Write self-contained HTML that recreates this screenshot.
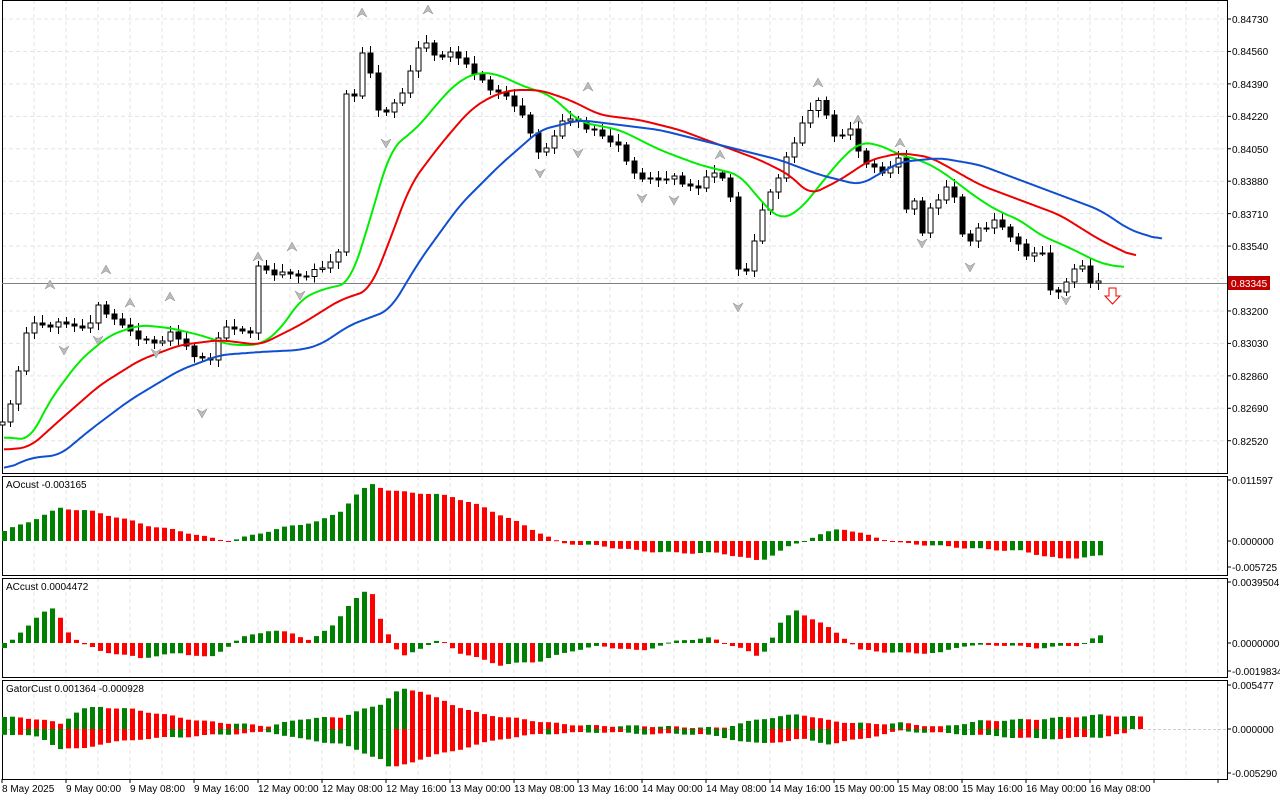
<!DOCTYPE html><html><head><style>
body{margin:0;background:#fff;font-family:"Liberation Sans",sans-serif;}
svg text{font-family:"Liberation Sans",sans-serif;font-size:10px;fill:#000}
</style></head><body>
<svg id="s" width="1280" height="800" xmlns="http://www.w3.org/2000/svg">
<rect width="1280" height="800" fill="#fff"/>
<g id="grid"></g><g id="shapes"></g>
<g id="lbl">
<text x="1232" y="23">0.84730</text><text x="1232" y="55">0.84560</text><text x="1232" y="88">0.84390</text><text x="1232" y="120">0.84220</text><text x="1232" y="153">0.84050</text><text x="1232" y="185">0.83880</text><text x="1232" y="218">0.83710</text><text x="1232" y="250">0.83540</text><text x="1232" y="283">0.83370</text><text x="1232" y="315">0.83200</text><text x="1232" y="347">0.83030</text><text x="1232" y="380">0.82860</text><text x="1232" y="412">0.82690</text><text x="1232" y="445">0.82520</text>
<rect x="1228" y="276" width="42" height="14" fill="#c00000"/><text x="1231" y="287" style="fill:#fff">0.83345</text>
<text x="1232" y="484">0.011597</text><text x="1232" y="545">0.000000</text><text x="1232" y="571">-0.005725</text>
<text x="1232" y="586">0.0039504</text><text x="1232" y="647">0.0000000</text><text x="1232" y="675">-0.0019834</text>
<text x="1232" y="689">0.005477</text><text x="1232" y="733">0.000000</text><text x="1232" y="777">-0.005290</text>
<text x="6" y="488">AOcust -0.003165</text><text x="6" y="590">ACcust 0.0004472</text><text x="6" y="692">GatorCust 0.001364 -0.000928</text>
<text x="2" y="792">8 May 2025</text><text x="66" y="792">9 May 00:00</text><text x="130" y="792">9 May 08:00</text><text x="194" y="792">9 May 16:00</text><text x="258" y="792">12 May 00:00</text><text x="322" y="792">12 May 08:00</text><text x="386" y="792">12 May 16:00</text><text x="450" y="792">13 May 00:00</text><text x="514" y="792">13 May 08:00</text><text x="578" y="792">13 May 16:00</text><text x="642" y="792">14 May 00:00</text><text x="706" y="792">14 May 08:00</text><text x="770" y="792">14 May 16:00</text><text x="834" y="792">15 May 00:00</text><text x="898" y="792">15 May 08:00</text><text x="962" y="792">15 May 16:00</text><text x="1026" y="792">16 May 00:00</text><text x="1090" y="792">16 May 08:00</text>
</g>
</svg>
<script>
const NS="http://www.w3.org/2000/svg",G=document.getElementById('shapes'),GR=document.getElementById('grid');
function el(p,t,a){const e=document.createElementNS(NS,t);for(const k in a)e.setAttribute(k,a[k]);p.appendChild(e);return e;}
function interp(k,x){if(x<=k[0][0])return k[0][1];for(let i=1;i<k.length;i++){if(x<=k[i][0]){const[a,b]=k[i-1],[c,d]=k[i];return b+(d-b)*(x-a)/(c-a);}}return k[k.length-1][1];}
function P(s){const a=s.split(/[ ,]+/).map(Number),r=[];for(let i=0;i<a.length;i+=2)r.push([a[i],a[i+1]]);return r;}
const panels=[[0,473],[476,575],[578,677],[680,779]];
for(const[t,b]of panels)for(let x=34;x<1227;x+=32)el(GR,'line',{x1:x,y1:t,x2:x,y2:b,stroke:'#e4e4e4','stroke-dasharray':'4,3'});
for(let i=0;i<14;i++){const y=19+i*32.44;el(GR,'line',{x1:2,y1:y,x2:1227,y2:y,stroke:'#e4e4e4','stroke-dasharray':'4,3'});}
for(const[t,b]of panels){el(GR,'rect',{x:2.5,y:t+0.5,width:1225,height:b-t,fill:'none',stroke:'#000'});}
for(let i=0;i<14;i++){const y=19+i*32.44;el(GR,'line',{x1:1227,y1:y,x2:1231,y2:y,stroke:'#000'});}
[480,541,567,582,643,671,685,729,773].forEach(y=>el(GR,'line',{x1:1227,y1:y,x2:1231,y2:y,stroke:'#000'}));
for(let x=2;x<1227;x+=64)el(GR,'line',{x1:x,y1:779,x2:x,y2:783,stroke:'#000'});
el(GR,'line',{x1:2,y1:283.5,x2:1227,y2:283.5,stroke:'#808080'});
const C=P("4,425 10,405 18,370 26,330 34,325 42,325 58,325 74,325 90,325 100,300 110,320 130,330 150,345 170,335 186,345 200,360 210,360 220,330 240,330 250,330 258,268 266,270 280,275 300,275 320,270 330,260 338,255 342,60 350,130 358,60 366,40 374,110 382,110 390,110 400,100 410,70 418,45 426,45 434,55 450,55 470,65 480,80 490,90 500,90 510,105 520,110 530,130 540,160 550,140 560,125 570,120 580,120 590,130 600,135 610,140 620,150 630,170 640,175 650,180 660,180 670,175 680,185 690,185 700,185 710,175 720,170 730,200 738,270 746,270 756,230 766,200 776,180 786,160 796,140 806,110 814,105 822,100 830,130 840,140 850,130 860,155 870,165 880,175 890,165 900,160 906,210 914,200 922,230 930,210 938,200 946,185 954,200 962,235 970,240 978,225 986,230 994,220 1002,225 1010,240 1018,245 1026,255 1034,250 1042,255 1050,290 1058,290 1066,285 1074,270 1082,265 1090,280 1098,283");
let prev=interp(C,0);
for(let i=0;i<138;i++){const x=2+8*i;let c=interp(C,x)+((i*37)%7-3);const o=prev;const hi=Math.min(o,c)-3-(i*13)%6,lo=Math.max(o,c)+3+(i*7)%5;
 el(G,'line',{x1:x+.5,y1:hi,x2:x+.5,y2:lo,stroke:'#000'});
 const bull=c<o;el(G,'rect',{x:x-2,y:Math.min(o,c),width:5,height:Math.max(1,Math.abs(o-c)),fill:bull?'#fff':'#000',stroke:'#000'});prev=c;}
function line(s,col){const k=P(s),x0=k[0][0],x1=k[k.length-1][0];const raw=[];for(let x=x0;x<=x1;x+=2)raw.push([x,interp(k,x)]);
 const pts=raw.map((p,i)=>{let s=0,n=0;for(let j=i-5;j<=i+5;j++){if(j>=0&&j<raw.length){s+=raw[j][1];n++;}}return [p[0],(s/n).toFixed(1)];});
 el(G,'polyline',{points:pts.map(p=>p.join(',')).join(' '),fill:'none',stroke:col,'stroke-width':2,'stroke-linejoin':'round'});}
line("4,437 30,440 50,400 80,360 110,335 140,325 170,328 200,335 230,345 260,345 280,330 300,300 320,290 350,283 370,220 390,150 420,125 440,100 460,80 480,72 500,75 520,85 550,95 580,122 620,130 660,150 700,165 740,175 760,200 780,220 800,210 820,185 840,160 860,142 880,145 900,155 920,160 940,170 960,185 980,200 1000,212 1020,220 1040,235 1070,248 1100,263 1125,268","#00ee00");
line("4,450 30,447 60,420 100,385 140,360 180,345 220,340 260,345 300,325 340,300 370,290 390,240 410,185 440,145 470,110 490,97 510,90 540,90 570,100 600,115 640,120 680,130 720,145 760,160 790,175 810,195 840,180 870,160 900,153 930,157 950,168 980,185 1020,200 1060,215 1100,240 1137,258","#ee0000");
line("4,470 30,458 60,455 90,430 130,400 180,370 220,355 260,352 300,350 320,345 350,325 390,310 420,260 460,205 500,165 540,130 580,120 620,125 660,130 700,140 740,150 780,160 820,175 860,185 900,162 940,158 980,165 1020,180 1060,195 1100,210 1130,230 1162,240","#1050d0");
el(G,'path',{d:'M1109,288 h7 v8 h4 l-7.5,8 l-7.5,-8 h4 z',fill:'#fff',stroke:'#e00'});
[[50,280,1],[106,265,1],[130,298,1],[170,292,1],[258,252,1],[292,242,1],[362,8,1],[428,5,1],[588,82,1],[818,78,1],[858,115,1],[900,138,1],[720,150,1],[64,355,0],[98,345,0],[156,358,0],[202,418,0],[300,300,0],[386,148,0],[540,178,0],[578,158,0],[642,203,0],[674,205,0],[738,312,0],[922,248,0],[970,272,0],[1066,305,0]].forEach(([x,y,u])=>{el(G,'path',{d:u?`M${x},${y} l-5,9 l5,-3 l5,3 z`:`M${x},${y} l-5,-9 l5,3 l5,-3 z`,fill:'#bbb',stroke:'#888','stroke-width':.5});});
function hist(keys,zero,n,x0){const k=P(keys);let pv=null;for(let i=0;i<n;i++){const x=x0+8*i;const v=interp(k,x)+Math.sin(i*1.3)*0.8;const col=(pv===null||v>pv)?'#008000':'#ff0000';el(G,'rect',{x:x-2,y:v>0?zero-v:zero,width:5,height:Math.max(1,Math.abs(v)),fill:col});pv=v;}}
hist("4,10 30,20 60,33 90,30 120,23 150,15 180,10 210,3 230,0 260,8 290,15 320,20 340,30 360,50 372,57 390,50 420,48 450,45 480,35 510,22 540,8 560,-2 600,-5 640,-10 680,-12 720,-12 760,-20 790,-5 810,3 840,13 870,5 900,-2 940,-5 980,-8 1020,-10 1060,-18 1098,-15",541,138,4);
hist("4,-5 20,10 40,30 56,35 64,15 80,0 100,-8 140,-15 180,-10 210,-15 240,5 270,13 290,10 310,3 330,15 350,40 370,55 380,25 400,-15 420,-5 440,3 460,-10 500,-22 540,-18 570,-8 600,-3 640,-8 680,3 710,5 740,-5 760,-15 780,20 795,33 820,20 840,8 860,-7 900,-10 940,-10 960,-3 1000,-2 1040,-5 1080,-2 1098,7",643,138,4);
el(G,'line',{x1:3,y1:729.5,x2:1226,y2:729.5,stroke:'#ccc','stroke-dasharray':'3,2'});
hist("4,12 40,10 60,5 80,20 100,22 130,20 160,15 200,8 240,5 270,3 300,10 340,12 380,25 400,40 420,38 450,25 480,15 520,10 560,5 600,3 640,3 680,2 720,1 760,10 800,15 830,8 870,5 900,6 940,2 980,8 1040,10 1100,14 1138,12",729,143,4);
(function(){const k=P("4,5 40,8 60,20 80,20 100,15 140,10 180,8 230,5 270,3 300,10 340,15 380,30 390,40 420,30 460,20 500,10 540,5 600,3 650,5 700,5 760,15 800,10 830,15 860,10 900,2 960,5 1040,10 1100,8 1120,5");let pv=null;for(let i=0;i<141;i++){const x=4+8*i;const v=interp(k,x)+Math.cos(i*1.1)*0.8;const col=(pv===null||v>pv)?'#008000':'#ff0000';el(G,'rect',{x:x-2,y:729,width:5,height:Math.max(1,v),fill:col});pv=v;}})();
</script>
</body></html>
